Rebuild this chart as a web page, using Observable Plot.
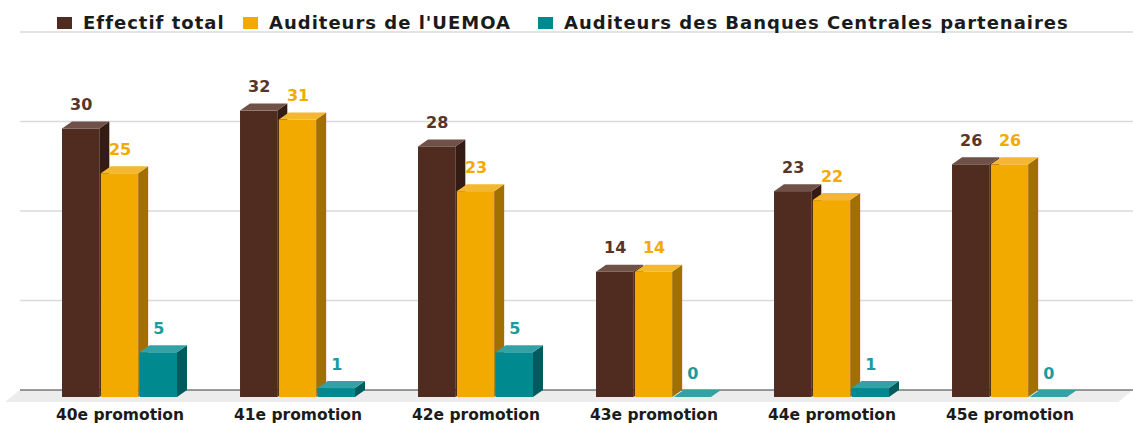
<!DOCTYPE html>
<html><head><meta charset="utf-8">
<script src="https://cdn.jsdelivr.net/npm/d3@7"></script>
<script src="https://cdn.jsdelivr.net/npm/@observablehq/plot@0.6"></script>
<style>
html,body{margin:0;padding:0;background:#fff;width:1133px;height:423px;overflow:hidden}
#legend{position:relative;height:28px;font:bold 18px "DejaVu Sans";letter-spacing:1px;color:#1b1b1b;white-space:nowrap}
#legend .sw{position:absolute;top:17px;width:15px;height:12px}
#legend .tx{position:absolute;top:12px;line-height:22px}
#chart svg{display:block;overflow:visible}
g[aria-label^="fx-axis"] text{font:bold 15.5px "DejaVu Sans";fill:#1b1b1b}
</style></head><body>
<div id="legend"></div>
<div id="chart"></div>
<script>
const promotions = ["40e promotion","41e promotion","42e promotion","43e promotion","44e promotion","45e promotion"];
const seriesNames = ["Effectif total","Auditeurs de l'UEMOA","Auditeurs des Banques Centrales partenaires"];
const effectifTotal = [30,32,28,14,23,26];
const auditeursUEMOA = [25,31,23,14,22,26];
const auditeursBC = [5,1,5,0,1,0];
const yTicks = [0,10,20,30,40];

const frontColors = ["#502c20","#f2aa00","#00898e"];
const topColors = ["#6f5147","#f4b732","#33a2a6"];
const sideColors = ["#341c14","#a07000","#005b5f"];
const labelColors = ["#573629","#f2aa00","#1b9ba0"];
const legendLeft = [57, 243, 538];
const DX = 10, DY = 7;
const W = 1133, H = 395, ML = 10, MR = 10;
const NS = "http://www.w3.org/2000/svg";

const seriesValues = [effectifTotal, auditeursUEMOA, auditeursBC];
const rows = promotions.flatMap((p, i) => seriesNames.map((s, j) => ({promotion: p, series: s, si: j, value: seriesValues[j][i]})));

// legend
const leg = document.getElementById("legend");
seriesNames.forEach((s, j) => {
  const sw = document.createElement("span"); sw.className = "sw";
  sw.style.background = frontColors[j]; sw.style.left = legendLeft[j] + "px";
  const tx = document.createElement("span"); tx.className = "tx";
  tx.textContent = s; tx.style.left = (legendLeft[j] + 26) + "px";
  leg.appendChild(sw); leg.appendChild(tx);
});

function poly(points, fill) {
  const p = document.createElementNS(NS, "polygon");
  p.setAttribute("points", points.map(d => d.join(",")).join(" "));
  p.setAttribute("fill", fill);
  return p;
}
function line(x1, x2, y, stroke, sw) {
  const l = document.createElementNS(NS, "line");
  l.setAttribute("x1", x1); l.setAttribute("x2", x2);
  l.setAttribute("y1", y); l.setAttribute("y2", y);
  l.setAttribute("stroke", stroke); l.setAttribute("stroke-width", sw);
  return l;
}

function bar3d(j) {
  return Plot.barY(rows.filter(d => d.si === j), {
    fx: "promotion", x: "series", y: "value", fill: frontColors[j],
    render(index, scales, values, dimensions, context, next) {
      const g = next(index, scales, values, dimensions, context);
      for (const r of Array.from(g.querySelectorAll("rect"))) {
        const x = +r.getAttribute("x"), y = +r.getAttribute("y");
        const w = +r.getAttribute("width"), h = +r.getAttribute("height");
        g.appendChild(poly([[x + w, y], [x + w + DX, y - DY], [x + w + DX, y + h - DY], [x + w, y + h]], sideColors[j]));
        g.appendChild(poly([[x, y], [x + DX, y - DY], [x + w + DX, y - DY], [x + w, y]], topColors[j]));
      }
      return g;
    }
  });
}

// floor + back-wall gridlines, drawn once over the whole frame
const backdrop = Plot.frame({
  facet: "super",
  render(index, scales) {
    const g = document.createElementNS(NS, "g");
    const y = scales.y;
    const l = ML, r = W - MR;
    const y0 = y(0);
    g.appendChild(poly([[l + DX, y0 - DY], [r + DX, y0 - DY], [r - 5, y0 + 5], [l - 5, y0 + 5]], "#ececec"));
    for (const t of yTicks) {
      if (t === 0) g.appendChild(line(l + DX, r + DX, y(t) - DY, "#3a3a3a", 1));
      else g.appendChild(line(l + DX, r + DX, y(t) - DY, "#dadada", 1.5));
    }
    return g;
  }
});

const chart = Plot.plot({
  width: W, height: H,
  marginTop: 11, marginBottom: 26, marginLeft: ML, marginRight: MR,
  facet: {marginTop: 0, marginBottom: 0, marginLeft: 0, marginRight: 0},
  fx: {domain: promotions, paddingInner: 0, paddingOuter: 0.1264, align: 0.4556, round: false,
       axis: "bottom", label: null, tickSize: 0, tickPadding: 11},
  x: {domain: seriesNames, paddingInner: 0.039, paddingOuter: 0.8117, round: false, axis: null},
  y: {domain: [0, 40], axis: null},
  color: {type: "identity"},
  style: {fontFamily: "DejaVu Sans", background: "#fff"},
  marks: [
    backdrop,
    bar3d(0), bar3d(1), bar3d(2),
    Plot.text(rows, {fx: "promotion", x: "series", y: "value", text: d => String(d.value),
      fill: d => labelColors[d.si], dy: -24, fontSize: 16, fontWeight: "bold"})
  ]
});
document.getElementById("chart").appendChild(chart);
</script>
</body></html>
